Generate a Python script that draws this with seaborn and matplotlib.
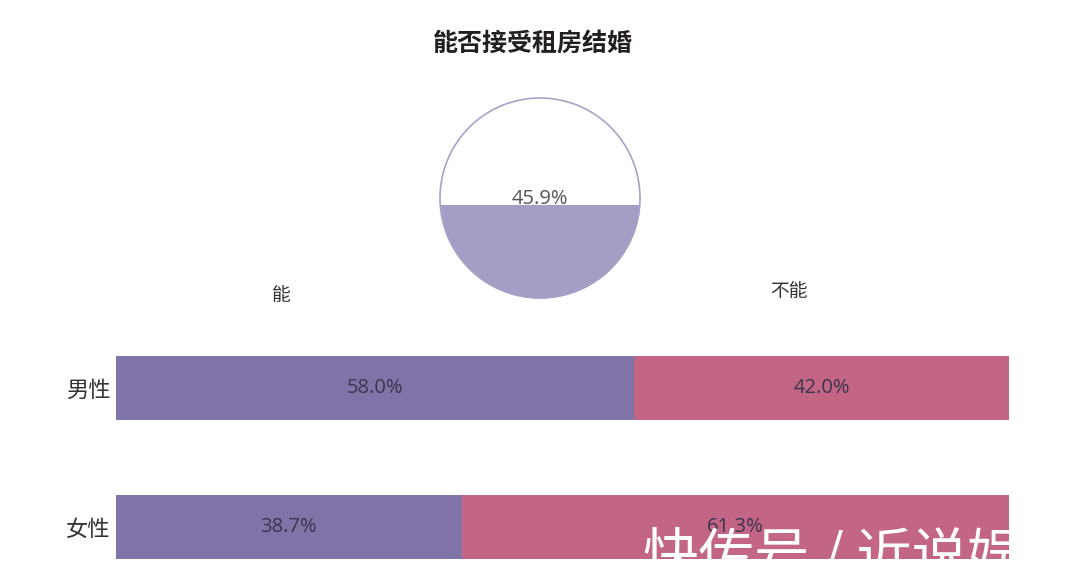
import numpy as np
import pandas as pd
import seaborn as sns
import matplotlib.pyplot as plt

# data
title = '能否接受租房结婚'
overall_can = 45.9
groups = ['男性', '女性']
can = [58.0, 38.7]
cannot = [42.0, 61.3]
answer_labels = ['能', '不能']
watermark = '快传号 / 近说娱'

purple = '#8073A8'
pink = '#C36585'
pie_fill = '#A59DC4'

sns.set_theme(style='white')
plt.rcParams['font.family'] = ['Noto Sans CJK SC', 'DejaVu Sans']
num_font = ['Open Sans', 'Noto Sans CJK SC']

W, H = 1080, 587
fig = plt.figure(figsize=(W / 100, H / 100), dpi=100)
fig.patch.set_facecolor('white')


def px_axes(x0, y0, x1, y1):
    # pixel box (top-left origin) -> figure fraction axes
    return fig.add_axes([x0 / W, 1 - y1 / H, (x1 - x0) / W, (y1 - y0) / H])


df = pd.DataFrame({'group': groups, 'can': can, 'cannot': cannot})
df['total'] = df['can'] + df['cannot']

# stacked bars
ax = px_axes(116, 318.5, 1009, 575.6)
sns.barplot(data=df, x='total', y='group', orient='h', color=pink, saturation=1,
            width=0.46, linewidth=0, ax=ax)
sns.barplot(data=df, x='can', y='group', orient='h', color=purple, saturation=1,
            width=0.46, linewidth=0, ax=ax)
ax.set_xlim(0, 100)
ax.set_ylim(1.35, -0.5)
ax.set_xlabel('')
ax.set_ylabel('')
ax.set_xticks([])
for s in ax.spines.values():
    s.set_visible(False)
ax.tick_params(axis='y', length=0, pad=4, labelsize=16, labelcolor='#333333')
ax.set_facecolor('none')

for i, row in df.iterrows():
    ax.text(row['can'] / 2, i, f"{row['can']:.1f}%", ha='center', va='center',
            fontsize=14.5, color='#3b3550', family=num_font)
    ax.text(row['can'] + row['cannot'] / 2, i, f"{row['cannot']:.1f}%", ha='center',
            va='center', fontsize=14.5, color='#3b3550', family=num_font)

# liquid-fill style circle
pax = px_axes(430, 88, 650, 308)
pax.set_xlim(-1.1, 1.1)
pax.set_ylim(-1.1, 1.1)
pax.set_aspect('equal')
pax.axis('off')

frac = overall_can / 100
lo, hi = -1.0, 1.0
for _ in range(60):
    mid = (lo + hi) / 2
    area = (mid * np.sqrt(1 - mid ** 2) + np.arcsin(mid) + np.pi / 2) / np.pi
    if area < frac:
        lo = mid
    else:
        hi = mid
level = (lo + hi) / 2

xs = np.linspace(-1, 1, 800)
lower = -np.sqrt(1 - xs ** 2)
upper = np.minimum(level, np.sqrt(1 - xs ** 2))
pax.fill_between(xs, lower, upper, where=upper > lower, color=pie_fill, linewidth=0)
t = np.linspace(0, 2 * np.pi, 400)
pax.plot(np.cos(t), np.sin(t), color='#A9A2C8', linewidth=1.2)
pax.text(0, level + 0.005, f'{overall_can:.1f}%', ha='center', va='baseline',
         fontsize=14.5, color='#555555', family=num_font)

# titles and answer labels
fig.text(533 / W, 1 - 44 / H, title, ha='center', va='center', fontsize=18,
         fontweight='bold', color='#231f20')
fig.text(281 / W, 1 - 296 / H, answer_labels[0], ha='center', va='center',
         fontsize=13.5, color='#333333')
fig.text(789 / W, 1 - 292 / H, answer_labels[1], ha='center', va='center',
         fontsize=13.5, color='#333333')

# watermark
fig.text(643 / W, 1 - 529 / H, watermark, ha='left', va='top', fontsize=40,
         color='white', zorder=10)

fig.savefig('out.png', dpi=100, facecolor='white')
